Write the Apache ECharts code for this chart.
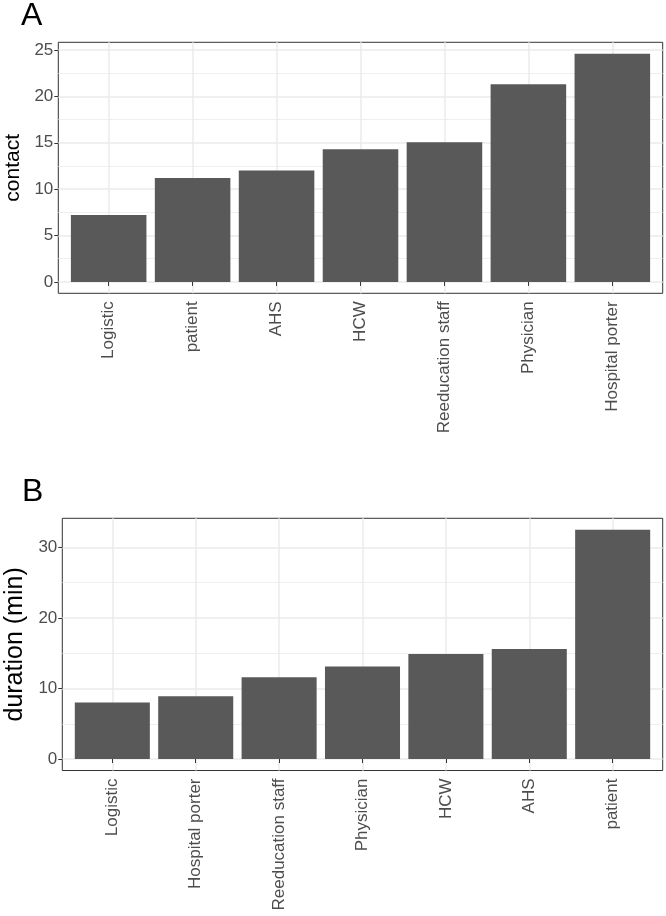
<!DOCTYPE html>
<html><head><meta charset="utf-8">
<script src="https://cdn.jsdelivr.net/npm/echarts@6/dist/echarts.min.js"></script>
<style>html,body{margin:0;padding:0;background:#fff}#c{width:666px;height:916px}</style>
</head><body><div id="c"></div>
<script>
const catsA = ['Logistic', 'patient', 'AHS', 'HCW', 'Reeducation staff', 'Physician', 'Hospital porter'];
const contact = [7.2, 11.2, 12.0, 14.3, 15.05, 21.3, 24.6];
const ticksA = [0, 5, 10, 15, 20, 25];
const minorA = [2.5, 7.5, 12.5, 17.5, 22.5];

const catsB = ['Logistic', 'Hospital porter', 'Reeducation staff', 'Physician', 'HCW', 'AHS', 'patient'];
const duration = [8.0, 8.9, 11.6, 13.1, 14.9, 15.6, 32.5];
const ticksB = [0, 10, 20, 30];
const minorB = [5, 15, 25];

const FONT = 'Liberation Sans, Arial, sans-serif';
const GRID_COL = '#ebebeb';

function pos(cats) { return cats.map((c, i) => i + 1); }

function xAxisFor(cats, gi) {
  const p = pos(cats);
  return {
    type: 'value', gridIndex: gi, min: 0.4, max: cats.length + 0.6,
    axisLine: { show: false },
    axisTick: { show: true, customValues: p, length: 4, lineStyle: { color: '#333', width: 1 } },
    axisLabel: { customValues: p, rotate: 90, margin: 8, fontSize: 17, color: '#4d4d4d', fontFamily: FONT,
      formatter: v => cats[Math.round(v) - 1] || '' },
    splitLine: { show: true, lineStyle: { color: GRID_COL, width: 1.5 } }
  };
}

function yAxisFor(vals, ticks, name, gi, gap, nameSize) {
  const mx = Math.max(...vals);
  return {
    type: 'value', gridIndex: gi, min: -0.05 * mx, max: 1.05 * mx,
    name: name, nameLocation: 'middle', nameRotate: 90, nameGap: gap,
    nameTextStyle: { fontSize: nameSize, color: '#000', fontFamily: FONT },
    axisLine: { show: false },
    axisTick: { show: true, customValues: ticks, length: 4, lineStyle: { color: '#333', width: 1 } },
    axisLabel: { customValues: ticks, margin: 5, fontSize: 17, color: '#4d4d4d', fontFamily: FONT },
    splitLine: { show: true, lineStyle: { color: GRID_COL, width: 1.5 } }
  };
}

function barSeries(cats, vals, minors, gi) {
  return {
    type: 'bar', xAxisIndex: gi, yAxisIndex: gi,
    data: vals.map((v, i) => [i + 1, v]),
    barWidth: '90%',
    itemStyle: { color: '#595959' },
    silent: true,
    markLine: {
      silent: true, symbol: 'none', z: 1, animation: false,
      label: { show: false },
      lineStyle: { color: GRID_COL, width: 0.8, type: 'solid' },
      data: minors.map(m => ({ yAxis: m }))
    }
  };
}

const chart = echarts.init(document.getElementById('c'), null, { renderer: 'canvas' });
chart.setOption({
  animation: false,
  backgroundColor: '#fff',
  title: [
    { text: 'A', left: 21, top: 0, padding: 0, textStyle: { fontSize: 32, fontWeight: 'normal', color: '#000', fontFamily: FONT } },
    { text: 'B', left: 22, top: 476, padding: 0, textStyle: { fontSize: 32, fontWeight: 'normal', color: '#000', fontFamily: FONT } }
  ],
  grid: [
    { left: 58.3, right: 3.3, top: 42.3, height: 251, show: true, borderColor: '#333', borderWidth: 1, backgroundColor: '#fff', outerBoundsMode: 'none', containLabel: false },
    { left: 62.3, right: 3.3, top: 518.3, height: 252.2, show: true, borderColor: '#333', borderWidth: 1, backgroundColor: '#fff', outerBoundsMode: 'none', containLabel: false }
  ],
  xAxis: [xAxisFor(catsA, 0), xAxisFor(catsB, 1)],
  yAxis: [yAxisFor(contact, ticksA, 'contact', 0, 19, 21), yAxisFor(duration, ticksB, 'duration (min)', 1, 32, 25)],
  series: [barSeries(catsA, contact, minorA, 0), barSeries(catsB, duration, minorB, 1)]
});
</script>
</body></html>
